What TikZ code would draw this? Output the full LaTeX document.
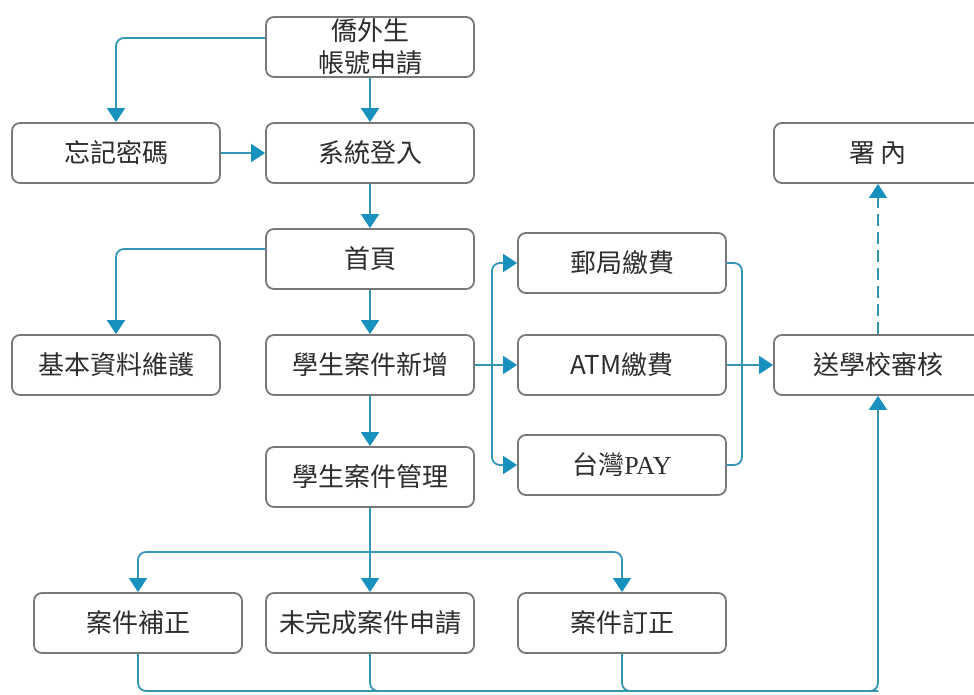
\documentclass[tikz,border=0pt]{standalone}
\usepackage{fontspec}
\setmainfont{Noto Sans CJK TC}
\newfontfamily\payfont{Liberation Serif}
\usetikzlibrary{arrows.meta,positioning,calc}
\definecolor{lineblue}{RGB}{50,150,180}
\definecolor{tipblue}{RGB}{25,145,190}
\definecolor{boxgray}{RGB}{120,120,120}
\definecolor{txtgray}{RGB}{45,45,45}
\begin{document}
\begin{tikzpicture}[x=1pt,y=-1pt,
  box/.style={draw=boxgray,line width=1.8pt,rounded corners=8pt,minimum width=208pt,minimum height=60pt,inner sep=0pt,align=center,text=txtgray,font=\fontsize{26}{32}\selectfont},
  conn/.style={draw=lineblue,line width=1.8pt,rounded corners=8pt},
  arr/.style={conn,-{Triangle[width=18pt,length=14pt,fill=tipblue,color=tipblue]}}]
\useasboundingbox (0,0) rectangle (974,695);
\node[box] (apply) at (370,47) {僑外生\\帳號申請};
\node[box] (forget) at (116,153) {忘記密碼};
\node[box] (login) at (370,153) {系統登入};
\node[box] (office) at (878,153) {署\,內};
\node[box] (home) at (370,259) {首頁};
\node[box] (post) at (622,263) {郵局繳費};
\node[box] (basic) at (116,365) {基本資料維護};
\node[box] (add) at (370,365) {學生案件新增};
\node[box] (atm) at (622,365) {ATM繳費};
\node[box] (review) at (878,365) {送學校審核};
\node[box] (pay) at (622,465) {台灣{\payfont PAY}};
\node[box] (manage) at (370,477) {學生案件管理};
\node[box] (fix) at (138,623) {案件補正};
\node[box] (unfinished) at (370,623) {未完成案件申請};
\node[box] (correct) at (622,623) {案件訂正};
\coordinate (bc) at (878,691);
\coordinate (pj) at (742,365);
\coordinate (aj) at (492,365);
\coordinate (mj) at (370,552);
% top
\draw[arr] ([yshift=9pt]apply.west) -| (forget.north);
\draw[arr] (apply.south) -- (login.north);
\draw[arr] (forget.east) -- (login.west);
\draw[arr] (login.south) -- (home.north);
\draw[arr] ([yshift=10pt]home.west) -| (basic.north);
\draw[arr] (home.south) -- (add.north);
% payments
\draw[arr] (add.east) -- (atm.west);
\draw[arr] (aj) |- (post.west);
\draw[arr] (aj) |- (pay.west);
\draw[conn] (post.east) -| (pj);
\draw[conn] (pay.east) -| (pj);
\draw[arr] (atm.east) -- (review.west);
\draw[arr,dash pattern=on 12pt off 6pt] (review.north) -- (office.south);
% manage
\draw[arr] (add.south) -- (manage.north);
\draw[arr] (manage.south) -- (unfinished.north);
\draw[arr] (mj) -| (fix.north);
\draw[arr] (mj) -| (correct.north);
% bottom return
\draw[arr] (fix.south) |- (bc) -- (review.south);
\draw[conn] (unfinished.south) |- (bc);
\draw[conn] (correct.south) |- (bc);
\end{tikzpicture}
\end{document}
